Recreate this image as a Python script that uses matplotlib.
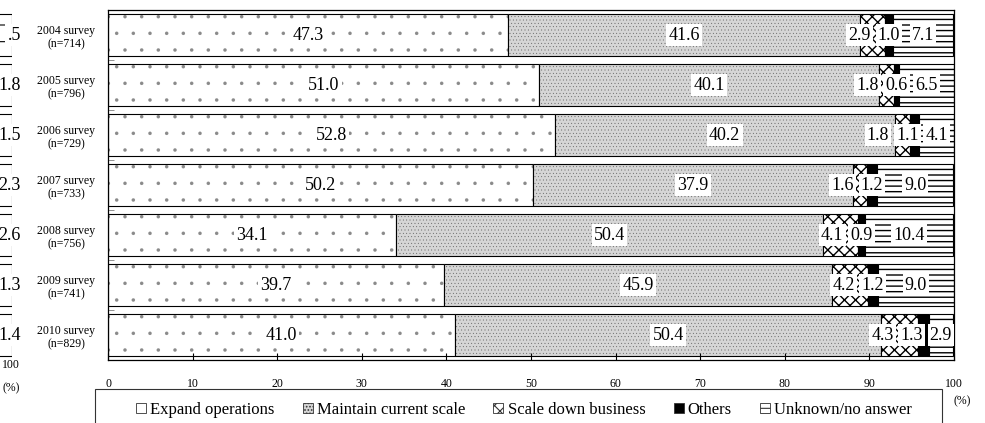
import numpy as np
import matplotlib.pyplot as plt
import matplotlib.patches as mpatches

plt.rcParams['font.family'] = ['Liberation Serif', 'DejaVu Serif']
plt.rcParams['hatch.linewidth'] = 0.8

# Data (%)
surveys = ['2004 survey\n(n=714)', '2005 survey\n(n=796)', '2006 survey\n(n=729)',
           '2007 survey\n(n=733)', '2008 survey\n(n=756)', '2009 survey\n(n=741)',
           '2010 survey\n(n=829)']
expand = [47.3, 51.0, 52.8, 50.2, 34.1, 39.7, 41.0]
maintain = [41.6, 40.1, 40.2, 37.9, 50.4, 45.9, 50.4]
scale_down = [2.9, 1.8, 1.8, 1.6, 4.1, 4.2, 4.3]
others = [1.0, 0.6, 1.1, 1.2, 0.9, 1.2, 1.3]
unknown = [7.1, 6.5, 4.1, 9.0, 10.4, 9.0, 2.9]
series_names = ['Expand operations', 'Maintain current scale', 'Scale down business',
                'Others', 'Unknown/no answer']
xticks = list(range(0, 101, 10))

# labels of the neighbouring chart that is cut off at the left edge
left_fragment = ['.5', '1.8', '1.5', '2.3', '2.6', '1.3', '1.4']

W, H = 985, 423
fig = plt.figure(figsize=(W / 100, H / 100), dpi=100)
ax = fig.add_axes([108 / W, 63 / H, 846 / W, 350 / H])

# (face colour, hatch, hatch colour, hatch line width)
styles = [('white', '.', '#8a8a8a', 0.1),
          ('#d6d6d6', '.....', '#505050', 0.2),
          ('white', 'xxx', 'black', 1.0),
          ('black', None, 'black', 0.8),
          ('white', '---', 'black', 1.0)]


def hatched_barh(axis, y, w, left, fc, hatch, hc, hlw):
    with plt.rc_context({'hatch.linewidth': hlw}):
        bars = axis.barh(y, w, left=left, height=0.84, color=fc, hatch=hatch,
                         edgecolor=hc, lw=0)
        for b in bars:
            if hasattr(b, 'set_hatch_linewidth'):
                b.set_hatch_linewidth(hlw)
    axis.barh(y, w, left=left, height=0.84, fill=False, edgecolor='black', lw=0.8)


y = np.arange(len(surveys))
data = np.array([expand, maintain, scale_down, others, unknown])
left = np.zeros(len(surveys))
for vals, (fc, hatch, hc, hlw) in zip(data, styles):
    hatched_barh(ax, y, vals, left, fc, hatch, hc, hlw)
    left += vals

ax.set_xlim(0, 100)
ax.set_ylim(len(surveys) - 0.5, -0.5)
ax.set_xticks(xticks)
ax.tick_params(axis='x', direction='in', length=5, pad=13, labelsize=8.5)
ax.set_yticks(y, surveys, fontsize=8.5, ha='center')
ax.tick_params(axis='y', length=0, pad=30)
ax.set_yticks(np.arange(0.5, len(surveys) - 1, 1), minor=True)
ax.tick_params(axis='y', which='minor', direction='in', length=4, color='gray')
for sp in ax.spines.values():
    sp.set_linewidth(0.9)

# value labels, centred in their segment then pushed apart from the right
starts = np.cumsum(data, axis=0) - data
centers = starts + data / 2
fig.canvas.draw()
renderer = fig.canvas.get_renderer()
px_per_unit = 846 / 100
for j in range(len(surveys)):
    texts = []
    for i in range(len(data)):
        t = ax.text(centers[i, j], j, f'{data[i, j]:.1f}', ha='center', va='center',
                    fontsize=13, zorder=5,
                    bbox=dict(facecolor='white', edgecolor='none', pad=1.5))
        texts.append(t)
    widths = [t.get_window_extent(renderer).width / px_per_unit + 0.5 for t in texts]
    pos = list(centers[:, j])
    for k in range(len(texts) - 2, 1, -1):
        limit = pos[k + 1] - (widths[k] + widths[k + 1]) / 2 - 0.3
        pos[k] = min(pos[k], limit)
    for t, p in zip(texts, pos):
        t.set_x(p)

# legend in a box that runs off the bottom edge
handles = [mpatches.Patch(facecolor=fc, hatch=hatch, edgecolor='#333333', lw=0.6)
           for fc, hatch, hc, hlw in styles]
fig.legend(handles, series_names, loc='center', bbox_to_anchor=(524 / W, 1 - 410 / H),
           ncol=5, frameon=False, fontsize=12, handlelength=0.6, handleheight=0.6,
           handletextpad=0.25, columnspacing=1.7)
fig.add_artist(mpatches.Rectangle((95 / W, -0.05), (942 - 95) / W, (423 - 389) / H + 0.05,
                                  transform=fig.transFigure, fill=False, lw=0.8,
                                  edgecolor='#333333'))
fig.text(962 / W, 1 - 401 / H, '(%)', fontsize=8.5, ha='center', va='center')

# piece of the neighbouring chart on the left
ax0 = fig.add_axes([0, 63 / H, 12 / W, 350 / H])
hatched_barh(ax0, y, 2, -1, 'white', '-', 'black', 0.8)
ax0.set_xlim(0, 1)
ax0.set_ylim(len(surveys) - 0.5, -0.5)
ax0.axis('off')
for j, lab in enumerate(left_fragment):
    ax0.text(1.75, j, lab, ha='right', va='center', fontsize=13, zorder=5,
             bbox=dict(facecolor='white', edgecolor='none', pad=1.5))
fig.text(11 / W, 1 - 365 / H, '100', fontsize=8.5, ha='center', va='center')
fig.text(11 / W, 1 - 388 / H, '(%)', fontsize=8.5, ha='center', va='center')

fig.savefig('out.png', dpi=100)
